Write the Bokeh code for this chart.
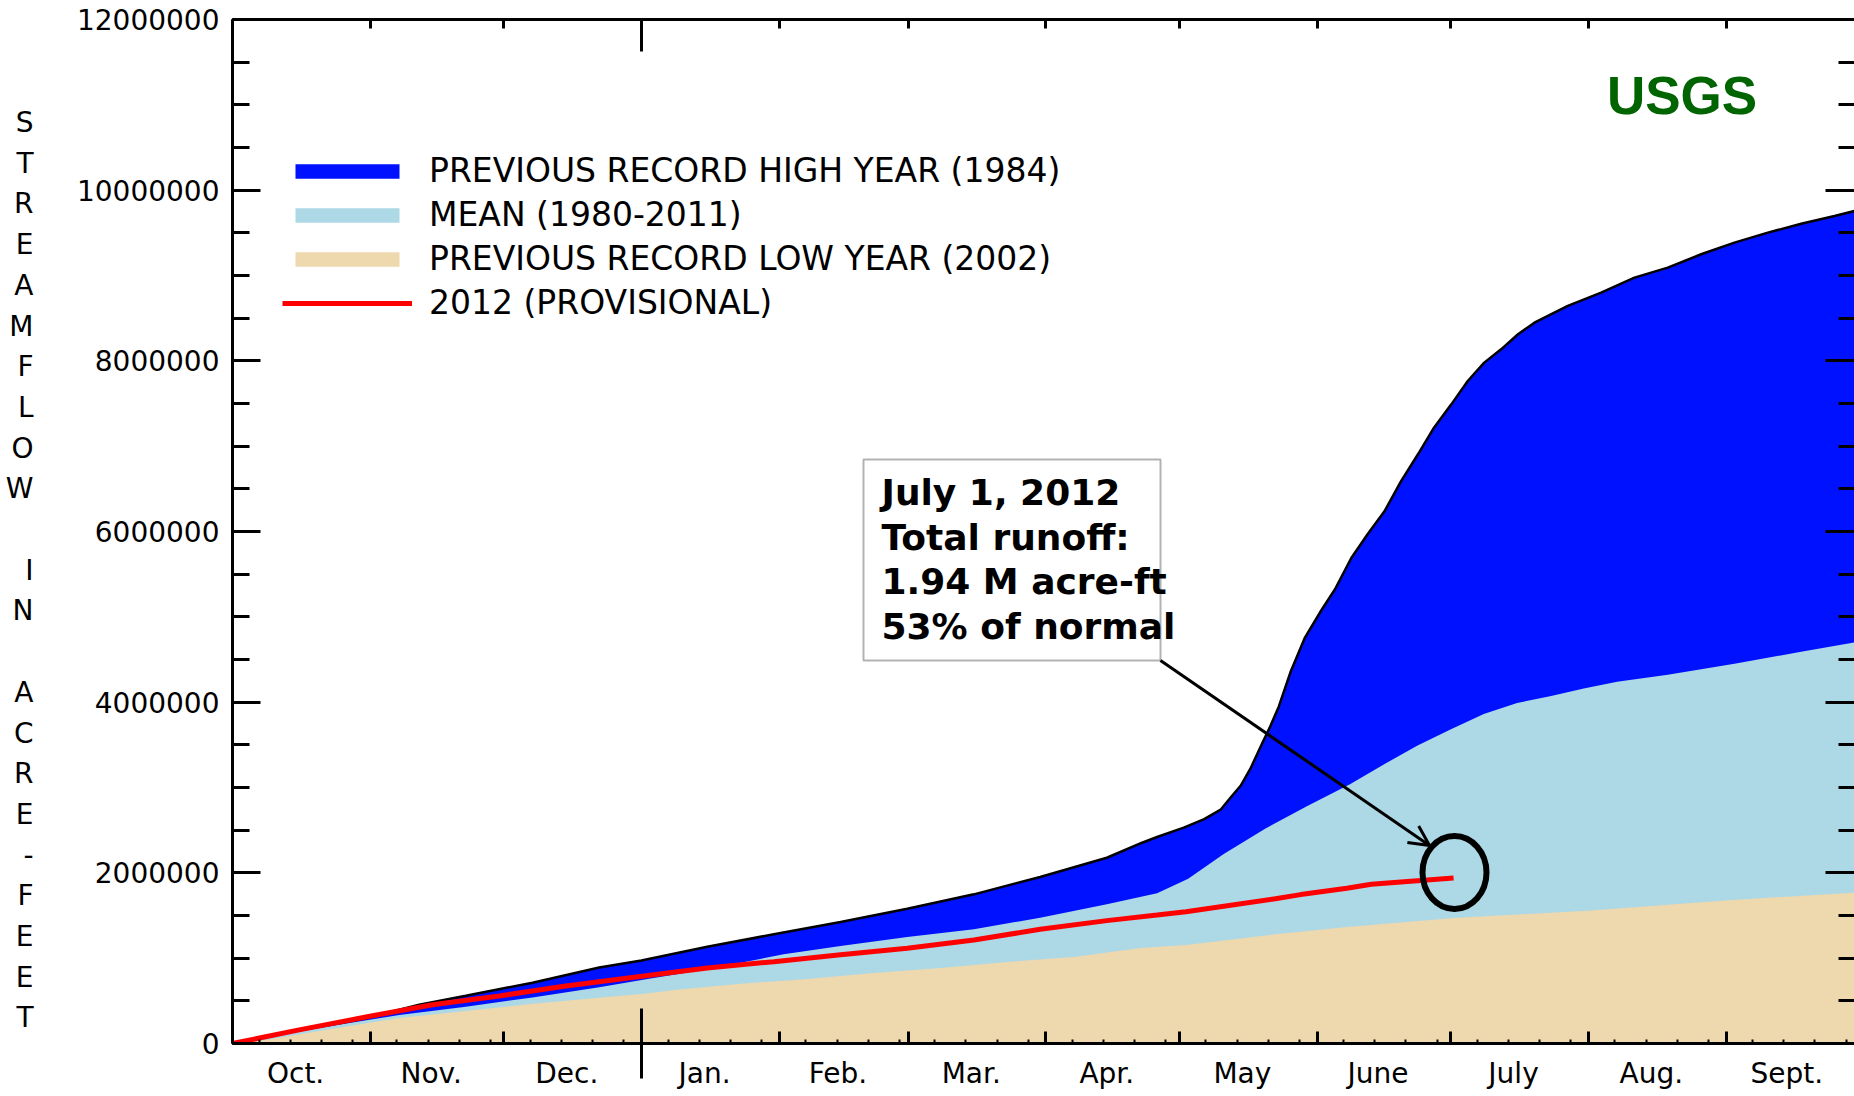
from bokeh.plotting import figure
from bokeh.models import (Range1d, LinearAxis, FixedTicker, SingleIntervalTicker,
                          NumeralTickFormatter, Legend, LegendItem, Label,
                          BoxAnnotation, Arrow, OpenHead)
from bokeh.embed import file_html
from bokeh.resources import INLINE

# ---------------- data ----------------
MONTHS = ["Oct.", "Nov.", "Dec.", "Jan.", "Feb.", "Mar.", "Apr.", "May",
          "June", "July", "Aug.", "Sept."]
MONTH_LENGTHS = [31, 30, 31, 31, 29, 31, 30, 31, 30, 31, 31, 30]

# day of water year (0 = Oct 1) and cumulative acre-feet
HIGH_1984_DAY = [0, 15, 30, 42, 52.5, 67.5, 82.5, 92, 106.8, 121.8,
                 136.8, 151.8, 166.8, 181.7, 196.7, 204.5, 208, 214, 218.6, 222.3,
                 224.5, 226.8, 229, 231.5, 233.5, 235.4, 238, 241.3, 245, 248,
                 251.7, 255.4, 259.2, 262.9, 266.7, 270.3, 274.2, 277.9, 281.6, 285.4,
                 289.2, 292.9, 300.4, 307.9, 315.4, 322.9, 330.4, 337.9, 345.4, 352.9,
                 360.4, 366]
HIGH_1984_AF = [0, 150000, 295000, 455000, 560000, 713000, 890000, 972000, 1134000, 1280000,
                1424000, 1580000, 1748000, 1951000, 2177000, 2350000, 2420000, 2530000, 2630000, 2740000,
                2880000, 3020000, 3220000, 3500000, 3720000, 3950000, 4350000, 4760000, 5080000, 5320000,
                5690000, 5970000, 6240000, 6590000, 6905000, 7217000, 7490000, 7764000, 7979000, 8135000,
                8311000, 8447000, 8643000, 8799000, 8975000, 9092000, 9249000, 9385000, 9502000, 9607000,
                9698000, 9770000]

MEAN_DAY = [0, 15, 27, 37.5, 52.5, 67.5, 82.5, 93.7, 106.8, 124,
            136.8, 151.8, 166.8, 181.7, 196.7, 208, 215, 223, 232.4, 241.7,
            251.5, 259, 266.5, 274, 281.5, 289, 296.4, 304, 311.5, 322.9,
            337.9, 352.9, 366]
MEAN_AF = [0, 140000, 245000, 334000, 430000, 540000, 660000, 760000, 870000, 1045000,
           1143000, 1248000, 1338000, 1474000, 1631000, 1760000, 1930000, 2220000, 2520000, 2780000,
           3040000, 3270000, 3490000, 3680000, 3860000, 3990000, 4070000, 4160000, 4240000, 4320000,
           4450000, 4590000, 4710000]

LOW_2002_DAY = [0, 7.5, 22.5, 37.5, 52.5, 67.5, 82.5, 93.7, 99.3, 114.3,
                129.3, 144.3, 159.3, 174.3, 189.3, 204.3, 214.5, 234.6, 240.3, 250.7,
                274.8, 305.7, 336.5, 366]
LOW_2002_AF = [0, 40000, 173000, 300000, 380000, 466000, 537000, 590000, 627000, 700000,
               756000, 826000, 885000, 955000, 1014000, 1119000, 1154000, 1280000, 1310000, 1365000,
               1470000, 1560000, 1680000, 1770000]

WY2012_DAY = [0, 15, 30, 45, 60, 75, 93, 106.8, 121.8, 136.8,
              151.8, 166.8, 181.7, 196.7, 208, 214.5, 234.6, 240.3, 250.7, 256.2,
              274.7]
WY2012_AF = [0, 160000, 310000, 455000, 557000, 674000, 795000, 885000, 959000, 1040000,
             1115000, 1213000, 1338000, 1440000, 1506000, 1545000, 1697000, 1745000, 1820000, 1866000,
             1940000]

LEGEND_LABELS = ["PREVIOUS RECORD HIGH YEAR (1984)", "MEAN (1980-2011)",
                 "PREVIOUS RECORD LOW YEAR (2002)", "2012 (PROVISIONAL)"]
Y_TITLE = "STREAMFLOW IN ACRE-FEET"
NOTE_LINES = ["July 1, 2012", "Total runoff:", "1.94 M acre-ft", "53% of normal"]

# ---------------- layout ----------------
W, H = 1854, 1096
FRAME_LEFT, FRAME_TOP, FRAME_BOTTOM_BORDER = 232, 19, 53
PX_PER_DAY = 4.445
Y_MAX = 12_000_000
FRAME_H = H - FRAME_TOP - FRAME_BOTTOM_BORDER
LABEL_SHIFT_DAYS = -1.3   # month names sit slightly left of the month middle
# page-pixel geometry used to place the annotations
REF_X0, REF_Y0, REF_PX_PER_AF = float(FRAME_LEFT), float(H - FRAME_BOTTOM_BORDER), FRAME_H / Y_MAX


def ref_day(xp):
    return (xp - REF_X0) / PX_PER_DAY


def ref_af(yp):
    return (REF_Y0 - yp) / REF_PX_PER_AF


starts = [sum(MONTH_LENGTHS[:i]) for i in range(13)]
jan = starts[3]
centers = [starts[i] + MONTH_LENGTHS[i] / 2 + LABEL_SHIFT_DAYS for i in range(12)]
weekly = [s + k for s in starts[:12] for k in (6, 13, 20, 27)]
x_end = (W - FRAME_LEFT) / PX_PER_DAY

BLUE, LIGHT, TAN, RED = "#0011ff", "#add8e6", "#eed8ae", "#ff0000"

p = figure(width=W, height=H, x_range=Range1d(0, x_end), y_range=Range1d(0, Y_MAX),
           x_axis_type=None, y_axis_type=None, output_backend="svg",
           toolbar_location=None, min_border_left=FRAME_LEFT, min_border_top=FRAME_TOP,
           min_border_right=0, min_border_bottom=FRAME_BOTTOM_BORDER, outline_line_color=None,
           background_fill_color="white", border_fill_color="white")

# ---------------- series ----------------
r_high = p.varea(x=HIGH_1984_DAY, y1=[0] * len(HIGH_1984_DAY), y2=HIGH_1984_AF, fill_color=BLUE)
p.line(x=HIGH_1984_DAY, y=HIGH_1984_AF, line_color="black", line_width=2.5)
r_mean = p.varea(x=MEAN_DAY, y1=[0] * len(MEAN_DAY), y2=MEAN_AF, fill_color=LIGHT)
r_low = p.varea(x=LOW_2002_DAY, y1=[0] * len(LOW_2002_DAY), y2=LOW_2002_AF, fill_color=TAN)
r_2012 = p.line(x=WY2012_DAY, y=WY2012_AF, line_color=RED, line_width=5)

# ---------------- axes ----------------
hidden = dict(major_label_text_font_size="0px", major_label_text_color=None,
              major_label_standoff=0)

left = LinearAxis(ticker=SingleIntervalTicker(interval=2_000_000, num_minor_ticks=4),
                  formatter=NumeralTickFormatter(format="0"),
                  major_tick_in=28, major_tick_out=0, minor_tick_in=17, minor_tick_out=0,
                  major_tick_line_width=3, minor_tick_line_width=3, axis_line_width=3,
                  major_label_standoff=13, major_label_text_font="DejaVu Sans",
                  major_label_text_font_size="28px", major_label_text_color="black")
p.add_layout(left, "left")

# stacked-letter axis title, drawn as tick labels of a second left axis
letter_vals = [ref_af(122 + i * 40.7) for i, ch in enumerate(Y_TITLE) if ch != " "]
letters = [ch for ch in Y_TITLE if ch != " "]
title_axis = LinearAxis(ticker=FixedTicker(ticks=letter_vals, minor_ticks=[]),
                        major_label_overrides={v: ch for v, ch in zip(letter_vals, letters)},
                        major_tick_line_color=None, minor_tick_line_color=None,
                        major_tick_in=0, major_tick_out=0, minor_tick_in=0, minor_tick_out=0,
                        axis_line_color=None, major_label_standoff=40,
                        major_label_text_font="DejaVu Sans", major_label_text_font_size="28px",
                        major_label_text_color="black")
p.add_layout(title_axis, "left")

right = LinearAxis(ticker=SingleIntervalTicker(interval=2_000_000, num_minor_ticks=4),
                   major_tick_in=29, major_tick_out=0, minor_tick_in=16, minor_tick_out=0,
                   major_tick_line_width=3, minor_tick_line_width=3, axis_line_color=None,
                   **hidden)
p.add_layout(right, "right")

top = LinearAxis(ticker=FixedTicker(ticks=[s for s in starts if s != jan], minor_ticks=[jan]),
                 major_tick_in=9, major_tick_out=0, minor_tick_in=32, minor_tick_out=0,
                 major_tick_line_width=3, minor_tick_line_width=3, axis_line_width=3,
                 **hidden)
p.add_layout(top, "above")

bottom_ticks = LinearAxis(ticker=FixedTicker(ticks=starts, minor_ticks=weekly),
                          major_tick_in=12, major_tick_out=0, minor_tick_in=4, minor_tick_out=0,
                          major_tick_line_width=3, minor_tick_line_width=2, axis_line_width=3,
                          **hidden)
p.add_layout(bottom_ticks, "below")

bottom_labels = LinearAxis(ticker=FixedTicker(ticks=centers, minor_ticks=[jan]),
                           major_label_overrides={c: m for c, m in zip(centers, MONTHS)},
                           major_tick_line_color=None, major_tick_in=0, major_tick_out=0,
                           minor_tick_in=35, minor_tick_out=35, minor_tick_line_width=3,
                           axis_line_color=None, major_label_standoff=-22,
                           major_label_text_font="DejaVu Sans",
                           major_label_text_font_size="28px", major_label_text_color="black")
p.add_layout(bottom_labels, "below")

# ---------------- legend ----------------
legend = Legend(items=[LegendItem(label=LEGEND_LABELS[0], renderers=[r_high]),
                       LegendItem(label=LEGEND_LABELS[1], renderers=[r_mean]),
                       LegendItem(label=LEGEND_LABELS[2], renderers=[r_low]),
                       LegendItem(label=LEGEND_LABELS[3], renderers=[r_2012])],
                location=(50, 721), orientation="vertical",
                glyph_width=130, glyph_height=18, label_standoff=17, spacing=5,
                padding=0, margin=0, border_line_color=None, background_fill_alpha=0,
                label_text_font="DejaVu Sans", label_text_font_size="33px",
                label_text_color="black")
p.add_layout(legend)

# ---------------- USGS mark ----------------
p.add_layout(Label(x=ref_day(1681.5), y=ref_af(94.5), text="USGS", text_align="center",
                   text_baseline="middle", text_font="Liberation Sans", text_font_style="bold",
                   text_font_size="53px", text_color="#006400"))

# ---------------- callout ----------------
p.add_layout(BoxAnnotation(left=ref_day(863), right=ref_day(1160), top=ref_af(459),
                           bottom=ref_af(660), fill_color="white", fill_alpha=1.0,
                           line_color="black", line_width=2))
for k, line in enumerate(NOTE_LINES):
    p.add_layout(Label(x=ref_day(881), y=ref_af(492 + k * 44.5), text=line,
                       text_align="left", text_baseline="middle",
                       text_font="DejaVu Sans", text_font_style="bold",
                       text_font_size="36px", text_color="black"))
p.add_layout(Arrow(end=OpenHead(size=20, line_width=3, line_color="black"),
                   x_start=ref_day(1160), y_start=ref_af(660),
                   x_end=ref_day(1429), y_end=ref_af(845),
                   line_color="black", line_width=3))
p.ellipse(x=[ref_day(1454)], y=[ref_af(872)], width=[64], height=[73],
          width_units="screen", height_units="screen",
          fill_color=None, line_color="black", line_width=6)

open("out.html", "w").write(file_html(p, INLINE))
